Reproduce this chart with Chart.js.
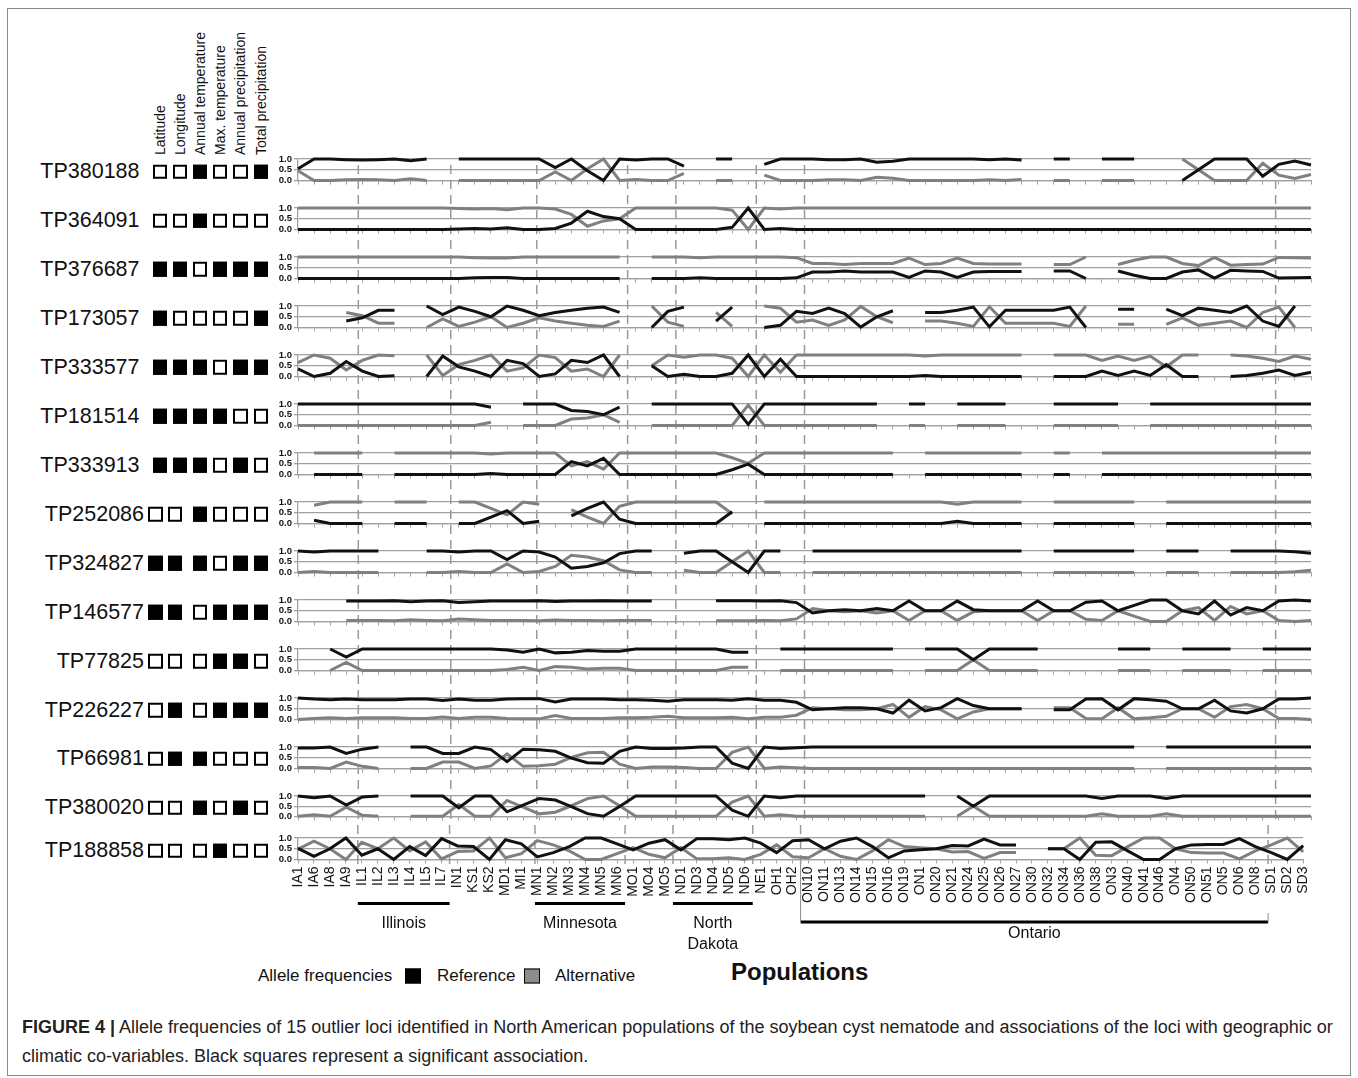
<!DOCTYPE html>
<html>
<head>
<meta charset="utf-8">
<title>Allele frequencies of 15 outlier loci</title>
<script src="https://cdn.jsdelivr.net/npm/chart.js@4.4.1/dist/chart.umd.min.js"></script>
<style>
  body { margin: 0; background: #fff; font-family: "Liberation Sans", Arial, sans-serif; color: #111; }
  #page { position: relative; width: 1358px; height: 1078px; overflow: hidden; }
  #frame { position: absolute; left: 7px; top: 8px; width: 1344px; height: 1068px; border: 1px solid #8a8a8a; box-sizing: border-box; }
  .row-chart { position: absolute; left: 228px; width: 1095px; }
  .locus { position: absolute; font-size: 21.5px; line-height: 24px; white-space: nowrap; transform: translate(-100%, -50%); }
  .box { position: absolute; width: 14.5px; height: 14.5px; border: 2px solid #000; box-sizing: border-box; background: #fff; transform: translateY(-50%); }
  .box.sig { background: #000; }
  .covar { position: absolute; top: 155px; font-size: 14px; line-height: 16px; white-space: nowrap; transform-origin: 0 0; transform: rotate(-90deg); }
  .legend-item { position: absolute; top: 976px; font-size: 17px; line-height: 20px; white-space: nowrap; transform: translateY(-50%); }
  .swatch { position: absolute; top: 976px; width: 16px; height: 15px; box-sizing: border-box; border: 1.5px solid #000; transform: translateY(-50%); }
  #axis-title { position: absolute; left: 731px; top: 958px; font-size: 24px; font-weight: bold; }
  #caption { position: absolute; left: 22px; top: 1013px; font-size: 18px; line-height: 29px; color: #222; white-space: nowrap; }
</style>
</head>
<body>
<div id="page">
  <div id="frame"></div>
  <div class="legend-item" style="left:258px;">Allele frequencies</div>
  <div class="swatch" style="left:405px; background:#000;"></div>
  <div class="legend-item" style="left:437px;">Reference</div>
  <div class="swatch" style="left:524px; background:#8c8c8c;"></div>
  <div class="legend-item" style="left:555px;">Alternative</div>
  <div id="axis-title">Populations</div>
  <div id="caption"><b>FIGURE 4 |</b> Allele frequencies of 15 outlier loci identified in North American populations of the soybean cyst nematode and associations of the loci with geographic or<br>climatic co-variables. Black squares represent a significant association.</div>
</div>
<script>
// ---- data ----
const populations = [
  'IA1', 'IA6', 'IA8', 'IA9',
  'IL1', 'IL2', 'IL3', 'IL4', 'IL5', 'IL7',
  'IN1', 'KS1', 'KS2', 'MD1', 'MI1',
  'MN1', 'MN2', 'MN3', 'MN4', 'MN5', 'MN6',
  'MO1', 'MO4', 'MO5',
  'ND1', 'ND3', 'ND4', 'ND5', 'ND6',
  'NE1', 'OH1', 'OH2',
  'ON10', 'ON11', 'ON13', 'ON14', 'ON15', 'ON16', 'ON19', 'ON1', 'ON20', 'ON21',
  'ON24', 'ON25', 'ON26', 'ON27', 'ON30', 'ON32', 'ON34', 'ON36', 'ON38', 'ON3',
  'ON40', 'ON41', 'ON46', 'ON4', 'ON50', 'ON51', 'ON5', 'ON6', 'ON8',
  'SD1', 'SD2', 'SD3'
];

const loci = ['TP380188', 'TP364091', 'TP376687', 'TP173057', 'TP333577', 'TP181514', 'TP333913', 'TP252086',
  'TP324827', 'TP146577', 'TP77825', 'TP226227', 'TP66981', 'TP380020', 'TP188858'];

const covariates = ['Latitude', 'Longitude', 'Annual temperature', 'Max. temperature', 'Annual precipitation', 'Total precipitation'];

// 1 = significant association (black square)
const associations = [
  [0, 0, 1, 0, 0, 1],
  [0, 0, 1, 0, 0, 0],
  [1, 1, 0, 1, 1, 1],
  [1, 0, 0, 0, 0, 1],
  [1, 1, 1, 0, 1, 1],
  [1, 1, 1, 1, 0, 0],
  [1, 1, 1, 0, 1, 0],
  [0, 0, 1, 0, 0, 0],
  [1, 1, 1, 0, 1, 1],
  [1, 1, 0, 1, 1, 1],
  [0, 0, 0, 1, 1, 0],
  [0, 1, 0, 1, 1, 1],
  [0, 1, 1, 0, 0, 0],
  [0, 0, 1, 0, 1, 0],
  [0, 0, 0, 1, 0, 0]
];

// reference allele frequency per population (null = no data)
const refTP380188 = [
  0.55, 1, 1, 0.97,
  0.95, 0.97, 1, 0.92, 1, null,
  1, 1, 1, 1, 1,
  1, 0.6, 1, 0.45, 0, 1,
  0.95, 1, 1,
  0.67, null, 1, 1, null,
  0.75, 1, 1,
  1, 0.97, 0.97, 1, 0.85, 0.9, 1, 1, 1, 1,
  1, 0.97, 1, 0.95, null, 1, 1, null, 1, 1,
  1, null, null, 0, 0.5, 1, 1, 1, 0.2,
  0.75, 0.9, 0.72
];
const refTP364091 = [
  0, 0, 0, 0,
  0, 0, 0, 0, 0, 0,
  0.02, 0.05, 0.02, 0.08, 0,
  0, 0.05, 0.3, 0.85, 0.6, 0.5,
  0, 0, 0,
  0, 0, 0, 0.1, 1,
  0, 0.05, 0,
  0, 0, 0, 0, 0, 0, 0, 0, 0, 0,
  0, 0, 0, 0, 0, 0, 0, 0, 0, 0,
  0, 0, 0, 0, 0, 0, 0, 0, 0,
  0, 0, 0
];
const refTP376687 = [
  0, 0, 0, 0,
  0, 0, 0, 0, 0, 0,
  0, 0.03, 0.05, 0.05, 0,
  0, 0, 0, 0, 0, 0,
  null, 0, 0,
  0, 0.03, 0, 0, 0,
  0, 0, 0.03,
  0.3, 0.3, 0.35, 0.3, 0.3, 0.3, 0.05, 0.35, 0.3, 0.05,
  0.3, 0.33, 0.33, 0.33, null, 0.35, 0.35, 0, null, 0.35,
  0.15, 0, 0, 0.3, 0.4, 0.02, 0.38, 0.35, 0.33,
  0.02, 0.03, 0.05
];
const refTP173057 = [
  null, null, null, 0.3,
  0.45, 0.8, 0.8, null, 1, 0.6,
  0.95, 0.75, 0.5, 1, 0.8,
  0.55, 0.7, 0.8, 0.9, 0.95, 0.7,
  null, 0, 0.75,
  0.95, null, 0.3, 0.95, null,
  0, 0.1, 0.75,
  0.65, 0.9, 0.65, 0.02, 0.5, 0.78, null, 0.7, 0.7, 0.8,
  0.95, 0.03, 0.8, 0.8, 0.8, 0.8, 0.95, 0, null, 0.85,
  0.85, null, 0.85, 0.55, 0.9, 0.8, 0.7, 1, 0.3,
  0.05, 1, null
];
const refTP333577 = [
  0.35, 0, 0.15, 0.7,
  0.25, 0, 0.03, null, 0, 0.95,
  0.45, 0.25, 0, 0.75, 0.6,
  0, 0.12, 0.75, 0.65, 1, 0,
  null, 0.5, 0,
  0.1, 0, 0, 0.15, 1,
  0, 0.8, 0,
  0, 0, 0, 0, 0, 0, 0, 0.05, 0, 0,
  0, 0, 0, 0, null, 0, 0, 0, 0.25, 0.05,
  0.25, 0.05, 0.55, 0, 0, null, 0, 0.05, 0.15,
  0.3, 0.05, 0.2
];
const refTP181514 = [
  1, 1, 1, 1,
  1, 1, 1, 1, 1, 1,
  1, 1, 0.85, null, 1,
  1, 1, 0.7, 0.65, 0.5, 0.85,
  null, 1, 1,
  1, 1, 1, 1, 0.05,
  1, 1, 1,
  1, 1, 1, 1, 1, null, 1, 1, null, 1,
  1, 1, 1, null, null, 1, 1, 1, 1, 1,
  null, 1, 1, 1, 1, 1, 1, 1, 1,
  1, 1, 1
];
const refTP333913 = [
  null, 0, 0, 0,
  0, null, 0, 0, 0, 0,
  0, 0, 0.05, 0, 0,
  0, 0, 0.6, 0.4, 0.75, 0,
  0, 0, 0,
  0, 0, 0, 0.22, 0.48,
  0, 0, 0,
  0, 0, 0, 0, 0, 0, null, 0, 0, 0,
  0, 0, 0, 0, null, 0, 0, null, 0, 0,
  0, 0, 0, 0, 0, 0, 0, 0, 0,
  0, 0, 0
];
const refTP252086 = [
  null, 0.15, 0, 0,
  0, null, 0, 0, 0, null,
  0, 0, 0.3, 0.6, 0,
  0.1, null, 0.35, 0.7, 1, 0.2,
  0, 0, 0,
  0, 0, 0, 0.55, null,
  0, 0, 0,
  0, 0, 0, 0, 0, 0, 0, 0, 0, 0.1,
  0, 0, 0, 0, null, 0, 0, 0, 0, 0,
  0, null, 0, 0, 0, 0, 0, 0, 0,
  0, 0, 0
];
const refTP324827 = [
  1, 0.95, 1, 1,
  1, 1, null, null, 1, 1,
  0.95, 1, 1, 0.6, 1,
  0.95, 0.72, 0.2, 0.28, 0.45, 0.88,
  1, 1, null,
  0.9, 1, 1, 0.5, 0,
  1, 1, null,
  1, 1, 1, 1, 1, 1, 1, 1, 1, 1,
  1, 1, 1, 1, null, 1, 1, 1, 1, 1,
  1, null, 1, 1, 1, null, 1, 1, 1,
  1, 0.97, 0.9
];
const refTP146577 = [
  null, null, null, 0.95,
  0.95, 0.95, 0.97, 0.92, 0.95, 0.97,
  0.88, 0.92, 0.95, 0.95, 0.95,
  0.97, 0.93, 0.95, 0.95, 0.97, 0.95,
  0.95, 0.95, null,
  null, null, 0.97, 0.97, 0.97,
  0.95, 0.97, 0.88,
  0.4, 0.5, 0.55, 0.5, 0.6, 0.5, 0.95, 0.5, 0.5, 0.95,
  0.55, 0.5, 0.5, 0.5, 0.95, 0.5, 0.5, 0.9, 0.95, 0.5,
  0.75, 1, 1, 0.5, 0.35, 0.95, 0.3, 0.65, 0.5,
  0.95, 1, 0.95
];
const refTP77825 = [
  null, null, 1, 0.62,
  1, 1, 1, 1, 1, 1,
  1, 1, 1, 0.95, 0.85,
  1, 0.82, 0.85, 0.93, 0.9, 0.9,
  1, 1, 1,
  1, 1, 1, 0.85, 0.85,
  null, 1, 1,
  1, 1, 1, 1, 1, 1, null, 1, 1, 1,
  0.5, 1, 1, 1, 1, null, null, null, null, 1,
  1, 1, null, 1, 1, 1, 1, null, 1,
  1, 1, 1
];
const refTP226227 = [
  1, 0.95, 0.92, 0.95,
  0.92, 0.92, 0.92, 0.95, 0.95, 0.88,
  0.95, 0.9, 0.9, 0.95, 0.97,
  0.97, 0.82, 0.95, 0.95, 0.95, 0.92,
  0.92, 0.9, 0.85,
  0.92, 0.92, 0.92, 0.9, 0.97,
  0.9, 0.9, 0.8,
  0.45, 0.5, 0.55, 0.55, 0.5, 0.3, 0.9, 0.4, 0.55, 0.97,
  0.65, 0.5, 0.5, 0.5, null, 0.45, 0.45, 0.95, 0.97, 0.45,
  0.97, 0.92, 0.85, 0.5, 0.5, 0.9, 0.4, 0.3, 0.5,
  0.95, 0.95, 1
];
const refTP66981 = [
  0.95, 0.95, 1, 0.7,
  0.9, 1, null, 1, 1, 0.7,
  0.7, 1, 0.88, 0.32, 0.9,
  0.87, 0.8, 0.48, 0.27, 0.25, 0.8,
  1, 0.93, 0.93,
  0.95, 1, 1, 0.25, 0,
  1, 0.93, 0.97,
  1, 1, 1, 1, 1, 1, 1, 1, 1, 1,
  1, 1, 1, 1, 1, 1, 1, 1, 1, 1,
  1, null, 1, 1, 1, 1, 1, 1, 1,
  1, 1, 1
];
const refTP380020 = [
  1, 0.92, 1, 0.55,
  0.95, 1, null, 1, 1, 1,
  0.42, 1, 1, 0.22, 0.55,
  0.88, 0.8, 0.48, 0.13, 0, 0.48,
  1, 1, 1,
  1, 1, 1, 0.3, 0,
  1, 0.92, 1,
  1, 1, 1, 1, 1, 1, 1, 1, null, 1,
  0.5, 1, 1, 1, 1, 1, 1, 1, 0.88, 1,
  1, 1, 0.88, 1, 1, 1, 1, 1, 1,
  1, 1, 1
];
const refTP188858 = [
  0.52, 0.15, 0.5, 1,
  0.2, 0.5, 0, 0.6, 0.18, 0.97,
  0.63, 0.6, 0, 0.92, 0.73,
  0.12, 0.32, 0.6, 1, 1, 0.73,
  0.45, 0.76, 0.92,
  0.45, 0.97, 0.97, 0.92, 1,
  0.76, 0.32, 0.87,
  0.92, 0.5, 0.85, 1, 0.6, 0.08, 0.4, 0.45, 0.5, 0.65,
  0.63, 0.95, 0.68, 0.68, null, 0.5, 0.5, 0, 0.8, 0.82,
  0.4, 0, 0, 0.5, 0.68, 0.7, 0.7, 0.97, 0.6,
  0.32, 0, 0.65
];

const referenceFreq = [refTP380188, refTP364091, refTP376687, refTP173057, refTP333577, refTP181514, refTP333913,
  refTP252086, refTP324827, refTP146577, refTP77825, refTP226227, refTP66981, refTP380020, refTP188858];

// regions bracketed under the axis
const regions = [
  { name: ['Illinois'], first: 'IL1', last: 'IL7' },
  { name: ['Minnesota'], first: 'MN1', last: 'MN6' },
  { name: ['North', 'Dakota'], first: 'ND1', last: 'ND6' },
  { name: ['Ontario'], first: 'ON10', last: 'ON8' }
];

// ---- layout ----
// dashed dividers, in category-axis units
const dividers = [3.75, 9.5, 14.85, 20.5, 23.5, 28.5, 31.5, 60.8];
const ROW_TOP0 = 159.3, ROW_STEP = 48.95, LAST_ROW_TOP = 838.3;
const PLOT_H = 21.5, PAD_TOP = 14;
const boxLeftUpper = [152.5, 172.5, 192.5, 212.5, 233, 253.5];
const boxLeftLower = [148, 167.5, 192.5, 212.5, 233, 253.5];
const GRID = '#a0a0a0';
const FONT = '"Liberation Sans", Arial, sans-serif';

Chart.defaults.font.family = FONT;
Chart.defaults.animation = false;

function rowTop(k) {
  return k === loci.length - 1 ? LAST_ROW_TOP : ROW_TOP0 + ROW_STEP * k;
}

const dividerPlugin = {
  id: 'regionDividers',
  beforeDatasetsDraw(chart, args, opts) {
    const { ctx, chartArea, scales: { x } } = chart;
    const y0 = opts.first ? chartArea.top : 0;
    const y1 = opts.last ? chartArea.bottom + 6 : chart.height;
    ctx.save();
    ctx.strokeStyle = '#9a9a9a';
    ctx.lineWidth = 1.5;
    ctx.setLineDash([9, 6]);
    ctx.lineDashOffset = (opts.canvasTop + y0) % 15;
    dividers.forEach(d => {
      const px = x.getPixelForValue(d);
      ctx.beginPath();
      ctx.moveTo(px, y0);
      ctx.lineTo(px, y1);
      ctx.stroke();
    });
    ctx.restore();
  }
};

const bracketPlugin = {
  id: 'regionBrackets',
  afterDraw(chart) {
    const { ctx, scales: { x } } = chart;
    ctx.save();
    regions.forEach(r => {
      const i0 = populations.indexOf(r.first);
      const i1 = populations.indexOf(r.last);
      const from = Math.max(...dividers.filter(d => d < i0));
      const to = Math.min(...dividers.filter(d => d > i1));
      const xa = x.getPixelForValue(from);
      const xb = x.getPixelForValue(to);
      // Ontario labels are longer, so its bracket sits lower
      const deep = r.first.length > 3;
      const yb = x.top + (deep ? 62.5 : 44);
      ctx.strokeStyle = '#000';
      ctx.lineWidth = 3;
      ctx.beginPath();
      ctx.moveTo(xa, yb);
      ctx.lineTo(xb, yb);
      ctx.stroke();
      if (deep) {
        ctx.strokeStyle = '#8a8a8a';
        ctx.lineWidth = 1;
        ctx.beginPath();
        ctx.moveTo(xa, x.top + 4);
        ctx.lineTo(xa, yb);
        ctx.moveTo(xb, yb - 9);
        ctx.lineTo(xb, yb);
        ctx.stroke();
      }
      ctx.fillStyle = '#111';
      ctx.font = '16px ' + FONT;
      ctx.textAlign = 'center';
      ctx.textBaseline = 'middle';
      r.name.forEach((line, j) => {
        ctx.fillText(line, (xa + xb) / 2, yb + (deep ? 11.5 : 20) + j * 21);
      });
    });
    ctx.restore();
  }
};

const page = document.getElementById('page');

// covariate headers
covariates.forEach((c, j) => {
  const el = document.createElement('div');
  el.className = 'covar';
  el.textContent = c;
  el.style.left = (boxLeftUpper[j] + 7.25 - 8) + 'px';
  page.appendChild(el);
});

loci.forEach((name, k) => {
  const first = k === 0;
  const last = k === loci.length - 1;
  const mid = rowTop(k) + PLOT_H / 2 + 1;

  const label = document.createElement('div');
  label.className = 'locus';
  label.textContent = name;
  label.style.left = (k < 7 ? 139.5 : 144) + 'px';
  label.style.top = mid + 'px';
  page.appendChild(label);

  const lefts = k < 7 ? boxLeftUpper : boxLeftLower;
  associations[k].forEach((s, j) => {
    const b = document.createElement('div');
    b.className = s ? 'box sig' : 'box';
    b.style.left = lefts[j] + 'px';
    b.style.top = (mid + 0.5) + 'px';
    page.appendChild(b);
  });

  const top = Math.round(rowTop(k)) - PAD_TOP;
  const next = last ? 959 : Math.round(rowTop(k + 1)) - PAD_TOP;
  const h = next - top;
  const wrap = document.createElement('div');
  wrap.className = 'row-chart';
  wrap.style.top = top + 'px';
  wrap.style.height = h + 'px';
  const canvas = document.createElement('canvas');
  wrap.appendChild(canvas);
  page.appendChild(wrap);

  const ref = referenceFreq[k];
  // alternative allele frequency is the complement of the reference one
  const alt = ref.map(v => v === null ? null : +(1 - v).toFixed(2));

  new Chart(canvas, {
    type: 'line',
    data: {
      labels: populations,
      datasets: [
        { label: 'Reference', data: ref, borderColor: '#111', borderWidth: 3, pointRadius: 0, tension: 0, clip: 4 },
        { label: 'Alternative', data: alt, borderColor: '#808080', borderWidth: 3, pointRadius: 0, tension: 0, clip: 4 }
      ]
    },
    options: {
      responsive: true,
      maintainAspectRatio: false,
      events: [],
      layout: { padding: { top: PAD_TOP, right: 12, bottom: 0, left: 0 } },
      plugins: {
        legend: { display: false },
        tooltip: { enabled: false },
        regionDividers: { first, last, canvasTop: top }
      },
      scales: {
        x: {
          type: 'category',
          offset: false,
          grid: { drawOnChartArea: false, drawTicks: true, tickLength: 4, color: GRID, lineWidth: 1 },
          border: { display: true, color: GRID, width: 1.3 },
          ticks: {
            display: last,
            autoSkip: false,
            maxRotation: 90,
            minRotation: 90,
            padding: 3,
            color: '#111',
            font: { size: 14 }
          },
          afterFit: s => { s.height = h - PAD_TOP - PLOT_H; }
        },
        y: {
          min: 0,
          max: 1,
          afterBuildTicks: s => { s.ticks = [{ value: 0 }, { value: 0.5 }, { value: 1 }]; },
          afterFit: s => { s.width = 70; },
          grid: { color: GRID, lineWidth: 1.3, tickLength: 4 },
          border: { display: true, color: GRID, width: 1.3 },
          ticks: {
            autoSkip: false,
            padding: 2,
            color: '#111',
            font: { size: 9.5, weight: 'bold' },
            callback: v => v.toFixed(1)
          }
        }
      }
    },
    plugins: last ? [dividerPlugin, bracketPlugin] : [dividerPlugin]
  });
});
</script>
</body>
</html>
